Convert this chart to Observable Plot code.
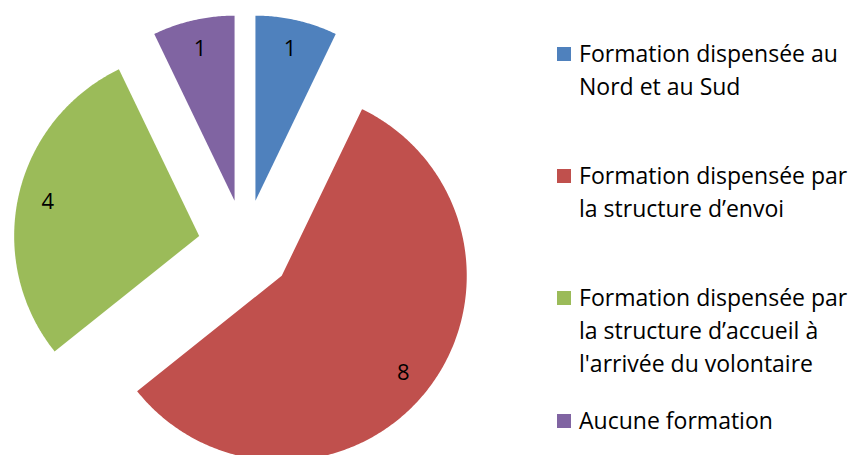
<!DOCTYPE html>
<html>
<head>
<meta charset="utf-8">
<script src="https://cdn.jsdelivr.net/npm/d3@7"></script>
<script src="https://cdn.jsdelivr.net/npm/@observablehq/plot@0.6"></script>
<style>
  html, body { margin: 0; padding: 0; background: #fff; }
  #wrap { position: relative; width: 852px; height: 455px; overflow: hidden; font-family: "Open Sans", sans-serif; }
  #pie { position: absolute; left: 0; top: 0; }
  .item { position: absolute; left: 557px; display: flex; align-items: flex-start; color: #000; }
  .sw { width: 14px; height: 14px; margin-right: 8px; flex: none; }
  .txt { white-space: nowrap; line-height: 33px; }
</style>
</head>
<body>
<div id="wrap"><div id="pie"></div></div>
<script>
const categories = [
  "Formation dispensée au Nord et au Sud",
  "Formation dispensée par la structure d’envoi",
  "Formation dispensée par la structure d’accueil à l'arrivée du volontaire",
  "Aucune formation"
];
const legendLines = [
  ["Formation dispensée au", "Nord et au Sud"],
  ["Formation dispensée par", "la structure d’envoi"],
  ["Formation dispensée par", "la structure d’accueil à", "l'arrivée du volontaire"],
  ["Aucune formation"]
];
const values = [1, 8, 4, 1];
const colors = ["#4F81BD", "#C0504D", "#9BBB59", "#8064A2"];

// layout
const pieW = 540, H = 455;
const cx = 244.5, cy = 246, R = 185;
const explode = 47 / R;
const labelPos = 0.84;

const arcs = d3.pie().sort(null).value(d => d)(values);
const pts = [];
const labels = [];
arcs.forEach((a, i) => {
  const mid = (a.startAngle + a.endAngle) / 2;
  const ox = explode * Math.sin(mid), oy = explode * Math.cos(mid);
  const n = Math.ceil((a.endAngle - a.startAngle) / (Math.PI / 360));
  pts.push({k: categories[i], x: ox, y: oy});
  for (let j = 0; j <= n; j++) {
    const t = a.startAngle + (a.endAngle - a.startAngle) * j / n;
    pts.push({k: categories[i], x: ox + Math.sin(t), y: oy + Math.cos(t)});
  }
  pts.push({k: categories[i], x: ox, y: oy});
  labels.push({x: ox + labelPos * Math.sin(mid), y: oy + labelPos * Math.cos(mid), text: String(values[i])});
});

const plot = Plot.plot({
  width: pieW, height: H, margin: 0,
  style: {fontFamily: "Open Sans, sans-serif", background: "transparent", overflow: "hidden"},
  x: {axis: null, domain: [(0 - cx) / R, (pieW - cx) / R], range: [0, pieW]},
  y: {axis: null, domain: [(cy - H) / R, cy / R], range: [H, 0]},
  color: {domain: categories, range: colors},
  marks: [
    Plot.line(pts, {x: "x", y: "y", z: "k", fill: "k", stroke: null, curve: "linear"}),
    Plot.text(labels, {x: "x", y: "y", text: "text", fontSize: 22, fill: "#000"})
  ]
});
document.getElementById("pie").appendChild(plot);

// legend
const ctx = document.createElement("canvas").getContext("2d");
ctx.font = "100px 'Open Sans'";
const fs = 259 / ctx.measureText("Formation dispensée au").width * 100;
const baselines = [62, 184, 306, 429];
const wrap = document.getElementById("wrap");
const lh = 33;
const asc = 1.069, desc = 0.293;
const baseInLine = (lh - (asc + desc) * fs) / 2 + asc * fs;
legendLines.forEach((lines, i) => {
  const item = document.createElement("div");
  item.className = "item";
  item.style.top = (baselines[i] - baseInLine) + "px";
  item.style.fontSize = fs + "px";
  const sw = document.createElement("div");
  sw.className = "sw";
  sw.style.background = colors[i];
  sw.style.marginTop = (baseInLine - 15) + "px";
  const txt = document.createElement("div");
  txt.className = "txt";
  txt.innerHTML = lines.join("<br>");
  item.appendChild(sw);
  item.appendChild(txt);
  wrap.appendChild(item);
});
</script>
</body>
</html>
